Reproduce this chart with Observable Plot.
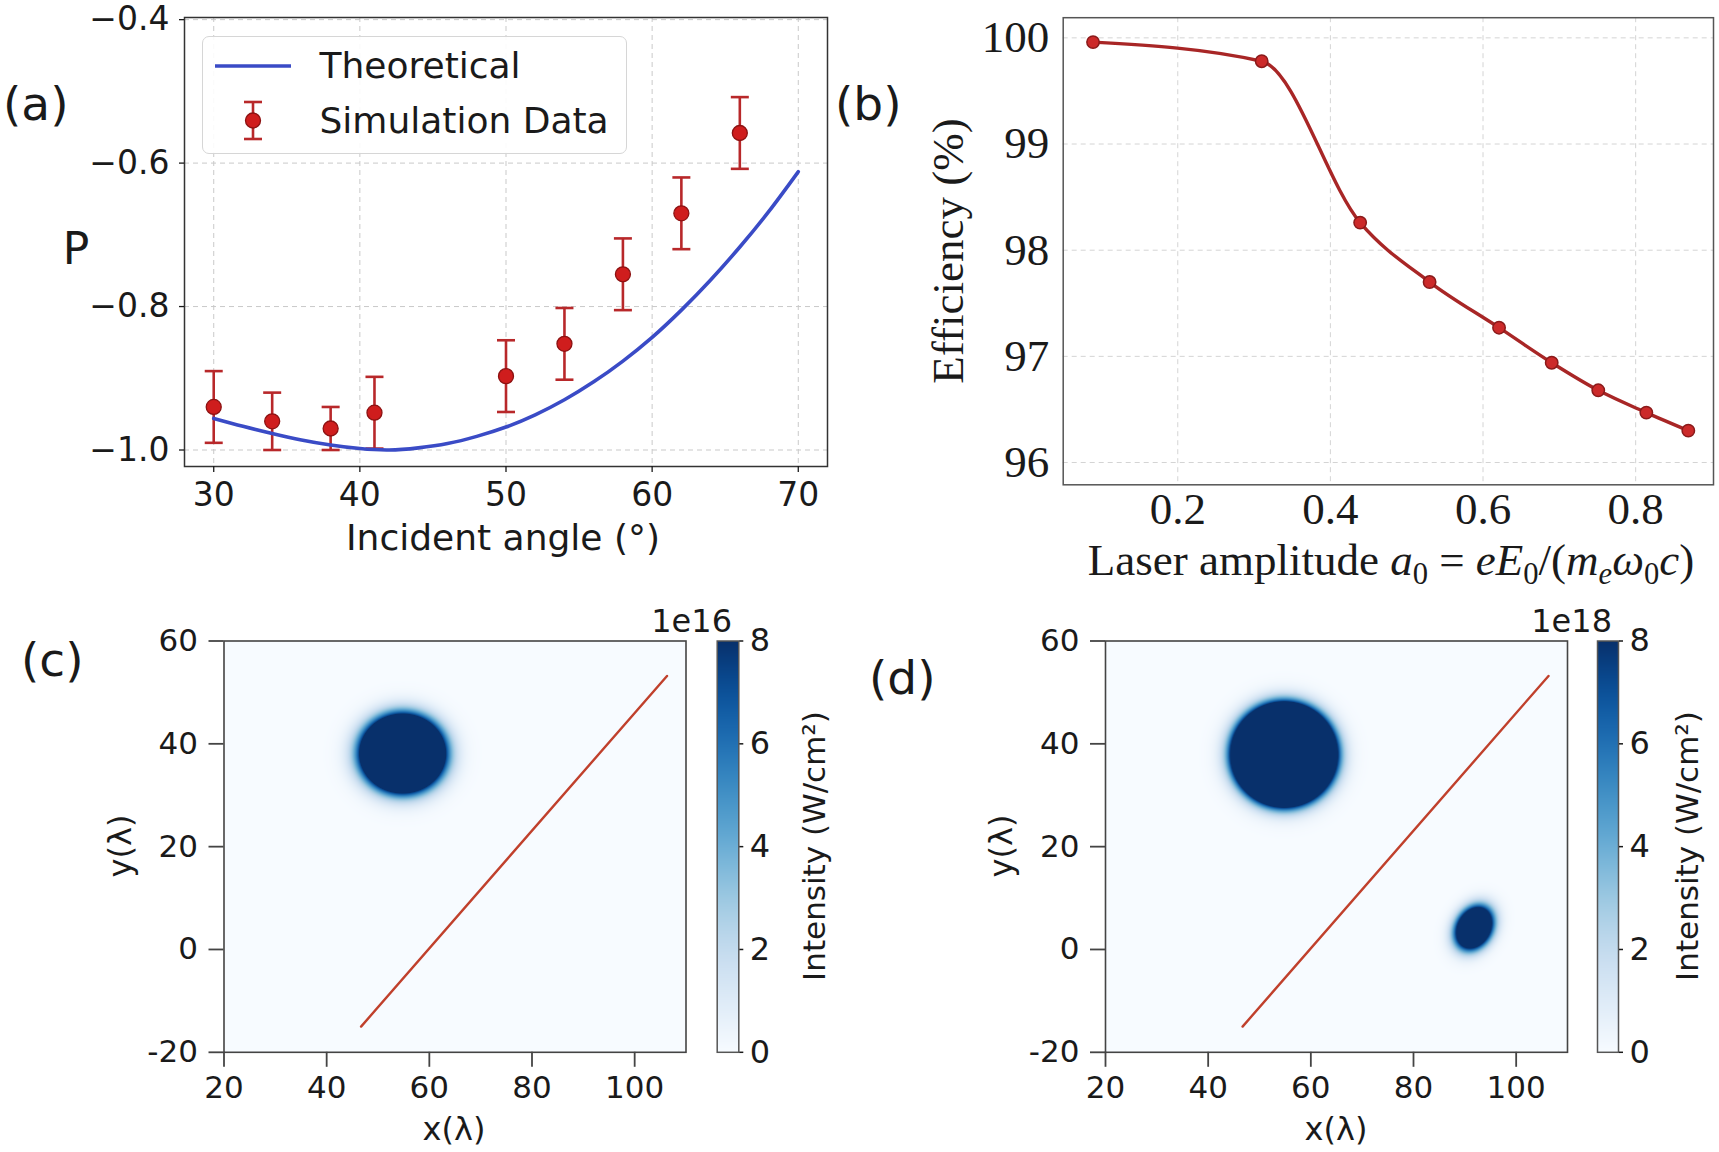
<!DOCTYPE html>
<html>
<head>
<meta charset="utf-8">
<script src="https://cdn.jsdelivr.net/npm/d3@7"></script>
<script src="https://cdn.jsdelivr.net/npm/@observablehq/plot@0.6"></script>
<style>
  body { margin: 0; background: #fff; }
  #fig { position: relative; width: 1719px; height: 1152px; overflow: hidden; background: #fff;
         font-family: "DejaVu Sans", sans-serif; color: #1a1a1a; }
  #fig svg { position: absolute; overflow: visible; }
  .lbl { position: absolute; white-space: nowrap; line-height: 1; }
  .lbl sub { font-size: 0.68em; vertical-align: baseline; position: relative; top: 0.3em; }
</style>
</head>
<body>
<div id="fig"></div>
<script>
// ---------- (a) polarization vs incident angle ----------
const simAngle = [30, 34, 38, 41, 50, 54, 58, 62, 66];
const simP     = [-0.940, -0.960, -0.970, -0.948, -0.897, -0.852, -0.755, -0.670, -0.558];
const simErr   = [0.05, 0.04, 0.03, 0.05, 0.05, 0.05, 0.05, 0.05, 0.05];
const theoryAngle = [30, 32, 34, 36, 38, 40, 42, 44, 46, 48, 50, 52, 54, 56, 58, 60, 62, 64, 66, 68, 70];
const theoryP     = [-0.956, -0.967, -0.977, -0.986, -0.993, -0.998, -1.000, -0.997, -0.991, -0.981, -0.968,
                     -0.951, -0.930, -0.905, -0.876, -0.843, -0.805, -0.763, -0.717, -0.667, -0.612];
const angleTicks = [30, 40, 50, 60, 70];
const pTicks = [-1.0, -0.8, -0.6, -0.4];

// ---------- (b) efficiency vs laser amplitude ----------
const ampA0  = [0.089, 0.310, 0.439, 0.530, 0.621, 0.690, 0.751, 0.814, 0.869];
const effPct = [99.96, 99.78, 98.26, 97.70, 97.27, 96.94, 96.68, 96.47, 96.30];
const ampTicks = [0.2, 0.4, 0.6, 0.8];
const effTicks = [96, 97, 98, 99, 100];

// ---------- (c), (d) intensity maps ----------
const mapXTicks = [20, 40, 60, 80, 100];
const mapYTicks = [-20, 0, 20, 40, 60];
const cbarTicks = [0, 2, 4, 6, 8];
const mirrorX = [46.7, 106.3];
const mirrorY = [-15.0, 53.2];
// focal spots: centre, saturated core semi-axes, tilt (deg) and halo width, all in λ
const spotC_x = [54.8],        spotC_y = [38.1];
const spotC_a = [8.4],         spotC_b = [7.7];
const spotC_tilt = [0],        spotC_halo = [4.2];
const spotD_x = [54.8, 91.8],  spotD_y = [37.9, 4.2];
const spotD_a = [10.5, 4.2],   spotD_b = [10.3, 3.2];
const spotD_tilt = [0, 60],    spotD_halo = [3.6, 3.0];

const sans = '"DejaVu Sans", sans-serif';
const serif = '"Liberation Serif", "DejaVu Serif", serif';
const ink = "#1a1a1a";
const fig = document.getElementById("fig");

function place(svg, left, top) {
  svg.style.left = left + "px";
  svg.style.top = top + "px";
  fig.appendChild(svg);
  return svg;
}
function label(html, x, y, o = {}) {
  const d = document.createElement("div");
  d.className = "lbl";
  d.innerHTML = html;
  d.style.left = x + "px";
  d.style.top = y + "px";
  d.style.fontSize = (o.size || 32) + "px";
  d.style.fontFamily = o.family || sans;
  d.style.color = o.color || ink;
  const ax = o.ax ?? -50;
  d.style.transform = `translate(${ax}%, -50%)` + (o.rotate ? " rotate(-90deg)" : "");
  (o.parent || fig).appendChild(d);
  return d;
}

// horizontal cap used for the error-bar ends
const capSymbol = {
  draw(ctx, size) {
    const r = Math.sqrt(size / Math.PI);
    ctx.moveTo(-r, 0);
    ctx.lineTo(r, 0);
  }
};

// ================= panel (a) =================
const sim = simAngle.map((a, i) => ({angle: a, p: simP[i], err: simErr[i]}));
const theory = theoryAngle.map((a, i) => ({angle: a, p: theoryP[i]}));
const errRed = "#b8282a";
const gridStyle = {stroke: "#c9c9c9", strokeOpacity: 1, strokeWidth: 1, strokeDasharray: "5,4"};

const panelA = Plot.plot({
  width: 860, height: 530,
  marginLeft: 184, marginRight: 33, marginTop: 17, marginBottom: 64,
  style: {fontFamily: sans, fontSize: "33px", color: ink, background: "transparent"},
  x: {domain: [28, 72]},
  y: {domain: [-1.023, -0.397]},
  marks: [
    Plot.gridX({ticks: angleTicks, ...gridStyle}),
    Plot.gridY({ticks: pTicks, ...gridStyle}),
    Plot.ruleX(sim, {x: "angle", y1: d => d.p - d.err, y2: d => d.p + d.err, stroke: errRed, strokeWidth: 2.6}),
    Plot.dot(sim, {x: "angle", y: d => d.p + d.err, symbol: capSymbol, r: 9, fill: "none", stroke: errRed, strokeWidth: 2.6}),
    Plot.dot(sim, {x: "angle", y: d => d.p - d.err, symbol: capSymbol, r: 9, fill: "none", stroke: errRed, strokeWidth: 2.6}),
    Plot.line(theory, {x: "angle", y: "p", stroke: "#3a4bc6", strokeWidth: 3.6, curve: "natural"}),
    Plot.dot(sim, {x: "angle", y: "p", r: 7.5, fill: "#cf1d1d", stroke: "#8c1212", strokeWidth: 1.3}),
    Plot.frame({stroke: "#333", strokeWidth: 1.5}),
    Plot.axisX({ticks: angleTicks, tickSize: 6, tickPadding: 10, fontSize: 33, strokeWidth: 1.3, label: null}),
    Plot.axisY({ticks: pTicks, tickSize: 5, tickPadding: 10, fontSize: 33, strokeWidth: 1.3,
                tickFormat: d3.format(".1f"), label: null})
  ]
});
place(panelA, 0, 0);

// legend of panel (a)
const legend = document.createElement("div");
Object.assign(legend.style, {
  position: "absolute", left: "202px", top: "36px", width: "425px", height: "118px",
  border: "1.5px solid #d6d6d6", borderRadius: "7px", background: "rgba(255,255,255,0.9)",
  boxSizing: "border-box"
});
legend.innerHTML = `
<svg width="425" height="118" style="position:absolute;left:-1.5px;top:-1.5px">
  <line x1="13" x2="89" y1="30" y2="30" stroke="#3a4bc6" stroke-width="3.6"/>
  <line x1="51" x2="51" y1="66" y2="103" stroke="${errRed}" stroke-width="2.6"/>
  <line x1="42" x2="60" y1="66" y2="66" stroke="${errRed}" stroke-width="2.6"/>
  <line x1="42" x2="60" y1="103" y2="103" stroke="${errRed}" stroke-width="2.6"/>
  <circle cx="51" cy="84.5" r="7.5" fill="#cf1d1d" stroke="#8c1212" stroke-width="1.3"/>
</svg>`;
fig.appendChild(legend);
label("Theoretical", 116.5, 28.5, {size: 36, ax: 0, parent: legend});
label("Simulation Data", 116.5, 83.5, {size: 36, ax: 0, parent: legend});

label("(a)", 3, 103, {size: 47, ax: 0});
label("P", 76, 249, {size: 44});
label("Incident angle (°)", 503, 538, {size: 36});

// ================= panel (b) =================
const eff = ampA0.map((a, i) => ({a0: a, eff: effPct[i]}));
const gridB = {stroke: "#d4d4d4", strokeOpacity: 1, strokeWidth: 1, strokeDasharray: "5,4"};
const panelB = Plot.plot({
  width: 839, height: 530,
  marginLeft: 182.7, marginRight: 6, marginTop: 17.2, marginBottom: 45.7,
  style: {fontFamily: serif, fontSize: "45px", color: ink, background: "transparent"},
  x: {domain: [0.0499, 0.902]},
  y: {domain: [95.79, 100.19]},
  marks: [
    Plot.gridX({ticks: ampTicks, ...gridB}),
    Plot.gridY({ticks: effTicks, ...gridB}),
    Plot.line(eff, {x: "a0", y: "eff", stroke: "#a82626", strokeWidth: 3.4, curve: "monotone-x"}),
    Plot.dot(eff, {x: "a0", y: "eff", r: 6.2, fill: "#cc2a2a", stroke: "#8a1a1a", strokeWidth: 1.5}),
    Plot.frame({stroke: "#555", strokeWidth: 1.5}),
    Plot.axisX({ticks: ampTicks, tickSize: 0, tickPadding: 7, fontSize: 45,
                tickFormat: d3.format(".1f"), label: null}),
    Plot.axisY({ticks: effTicks, tickSize: 0, tickPadding: 14, fontSize: 45,
                tickFormat: d => String(d), label: null})
  ]
});
place(panelB, 880, 0);

label("(b)", 835, 103, {size: 47, ax: 0});
label("Efficiency (%)", 948, 251, {size: 45, family: serif, rotate: true});
label('Laser amplitude <i>a</i><sub>0</sub> = <i>eE</i><sub>0</sub>/(<i>m<sub>e</sub>ω</i><sub>0</sub><i>c</i>)',
      1391, 560, {size: 45, family: serif});

// ================= panels (c) and (d) =================
function intensityField(cx, cy, a, b, tilt, halo) {
  const spots = cx.map((_, i) => {
    const t = tilt[i] * Math.PI / 180;
    const rh = 1 + halo[i] / Math.sqrt(a[i] * b[i]);
    return {x: cx[i], y: cy[i], a: a[i], b: b[i], c: Math.cos(t), s: Math.sin(t),
            k: Math.log(8 / 0.3) / (rh * rh - 1)};
  });
  return (x, y) => {
    let v = 0;
    for (const p of spots) {
      const dx = x - p.x, dy = y - p.y;
      const u = (dx * p.c + dy * p.s) / p.a;
      const w = (-dx * p.s + dy * p.c) / p.b;
      v += 8 * Math.exp(-p.k * (u * u + w * w - 1));
    }
    return v;
  };
}

const mirror = mirrorX.map((x, i) => ({x, y: mirrorY[i]}));
const colorScale = {type: "linear", scheme: "blues", domain: [0, 8], clamp: true};

function mapPanel(field, w, mLeft, mRight) {
  return Plot.plot({
    width: w, height: 552,
    marginLeft: mLeft, marginRight: mRight, marginTop: 40.5, marginBottom: 100.2,
    style: {fontFamily: sans, fontSize: "31px", color: ink, background: "transparent"},
    x: {domain: [20, 110]},
    y: {domain: [-20, 60]},
    color: colorScale,
    marks: [
      Plot.raster({fill: field, x1: 20, x2: 110, y1: -20, y2: 60, pixelSize: 1, imageRendering: "auto"}),
      Plot.line(mirror, {x: "x", y: "y", stroke: "#c0402c", strokeWidth: 2.4}),
      Plot.frame({stroke: "#444", strokeWidth: 1.6}),
      Plot.axisX({ticks: mapXTicks, tickSize: 15, tickPadding: 9, fontSize: 31, strokeWidth: 1.8,
                  stroke: "#444", tickFormat: d => String(d), label: null}),
      Plot.axisY({ticks: mapYTicks, tickSize: 15, tickPadding: 11, fontSize: 31, strokeWidth: 1.8,
                  stroke: "#444", tickFormat: d => String(d), label: null})
    ]
  });
}

function colorbar(w, mLeft, mRight) {
  return Plot.plot({
    width: w, height: 552,
    marginLeft: mLeft, marginRight: mRight, marginTop: 40.5, marginBottom: 100.2,
    style: {fontFamily: sans, fontSize: "32px", color: ink, background: "transparent"},
    x: {domain: [0, 1], axis: null},
    y: {domain: [0, 8]},
    color: colorScale,
    marks: [
      Plot.raster({fill: (x, y) => y, x1: 0, x2: 1, y1: 0, y2: 8, pixelSize: 1}),
      Plot.frame({stroke: "#555", strokeWidth: 1.5}),
      Plot.axisY({anchor: "right", ticks: cbarTicks, tickSize: 4, tickPadding: 7, fontSize: 32,
                  strokeWidth: 1.5, tickFormat: d => String(d), label: null})
    ]
  });
}

const fieldC = intensityField(spotC_x, spotC_y, spotC_a, spotC_b, spotC_tilt, spotC_halo);
const fieldD = intensityField(spotD_x, spotD_y, spotD_a, spotD_b, spotD_tilt, spotD_halo);

place(mapPanel(fieldC, 700, 223.5, 14.5), 0, 600);
place(colorbar(160, 16.7, 121.7), 700, 600);
place(mapPanel(fieldD, 720, 235, 23), 870, 600);
place(colorbar(129, 7, 101), 1590, 600);

label("(c)", 21, 659, {size: 47, ax: 0});
label("y(λ)", 120, 846, {size: 32, rotate: true});
label("x(λ)", 454, 1129, {size: 32});
label("1e16", 732, 621, {size: 32, ax: -100});
label("Intensity (W/cm²)", 814, 846, {size: 31, rotate: true});

label("(d)", 869, 677, {size: 47, ax: 0});
label("y(λ)", 1001, 846, {size: 32, rotate: true});
label("x(λ)", 1336, 1129, {size: 32});
label("1e18", 1612, 621, {size: 32, ax: -100});
label("Intensity (W/cm²)", 1687, 846, {size: 31, rotate: true});
</script>
</body>
</html>
